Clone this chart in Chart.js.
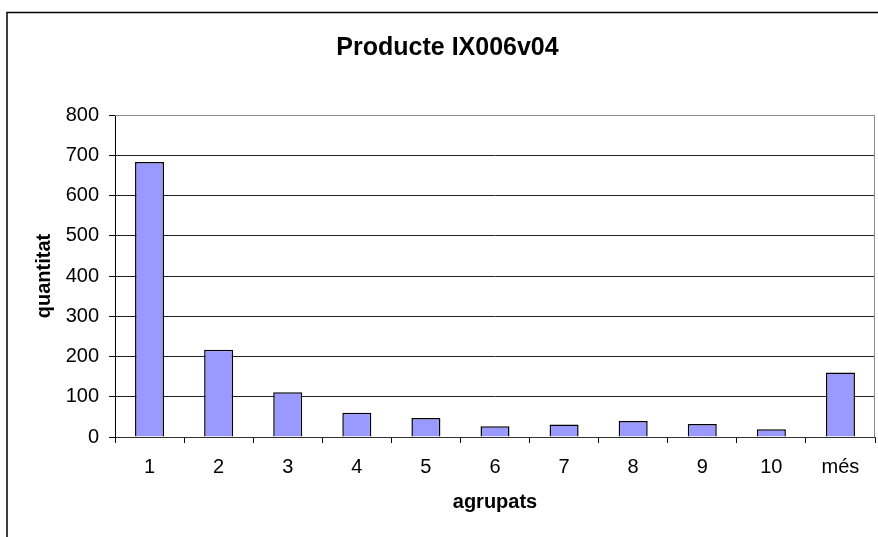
<!DOCTYPE html>
<html>
<head>
<meta charset="utf-8">
<script src="https://cdn.jsdelivr.net/npm/chart.js@4/dist/chart.umd.min.js"></script>
<style>
    html, body { margin: 0; padding: 0; background: #fff; }
    #wrap { width: 878px; height: 537px; }
</style>
</head>
<body>
<div id="wrap"><canvas id="histChart" width="878" height="537"></canvas></div>
<script>
// Histogram data
const categories = ['1', '2', '3', '4', '5', '6', '7', '8', '9', '10', 'més'];
const quantities = [683, 217, 111, 60, 47, 27, 31, 40, 32, 19, 160];
const yTicks = [0, 100, 200, 300, 400, 500, 600, 700, 800];

const chartTitle = 'Producte IX006v04';
const xTitle = 'agrupats';
const yTitle = 'quantitat';

const FONT = 'Arial, "Liberation Sans", sans-serif';

// white background, outer frame and grey plot border
const framePlugin = {
    id: 'frame',
    beforeDraw(chart) {
        const ctx = chart.ctx;
        ctx.save();
        ctx.fillStyle = '#fff';
        ctx.fillRect(0, 0, chart.width, chart.height);
        ctx.strokeStyle = '#000';
        ctx.lineWidth = 1.5;
        ctx.beginPath();
        ctx.moveTo(7, chart.height + 5);
        ctx.lineTo(7, 12.5);
        ctx.lineTo(chart.width + 5, 12.5);
        ctx.stroke();
        ctx.restore();
    },
    afterDatasetsDraw(chart) {
        const a = chart.chartArea;
        const ctx = chart.ctx;
        ctx.save();
        ctx.strokeStyle = '#8c8c8c';
        ctx.lineWidth = 1;
        ctx.beginPath();
        ctx.moveTo(a.left, a.top + 0.5);
        ctx.lineTo(a.right - 0.5, a.top + 0.5);
        ctx.lineTo(a.right - 0.5, a.bottom);
        ctx.stroke();
        ctx.restore();
    }
};

new Chart(document.getElementById('histChart'), {
    type: 'bar',
    data: {
        labels: categories,
        datasets: [{
            label: yTitle,
            data: quantities,
            backgroundColor: '#9999ff',
            borderColor: '#000',
            borderWidth: 1.5,
            categoryPercentage: 1,
            barPercentage: 0.42
        }]
    },
    options: {
        responsive: false,
        animation: false,
        layout: { padding: { left: 20, right: 3, top: 0, bottom: 10 } },
        plugins: {
            legend: { display: false },
            tooltip: { enabled: false },
            title: {
                display: true,
                text: chartTitle,
                color: '#000',
                font: { family: FONT, size: 25, weight: 'bold' },
                padding: { top: 33, bottom: 52 }
            }
        },
        scales: {
            x: {
                offset: true,
                grid: {
                    offset: true,
                    drawOnChartArea: false,
                    drawTicks: true,
                    tickLength: 6,
                    color: '#000'
                },
                border: { color: '#333', width: 1 },
                ticks: {
                    color: '#000',
                    font: { family: FONT, size: 20 },
                    padding: 12,
                    maxRotation: 0
                },
                title: {
                    display: true,
                    text: xTitle,
                    color: '#000',
                    font: { family: FONT, size: 20, weight: 'bold' },
                    padding: { top: 0, bottom: 13 }
                },
                afterFit(scale) { scale.height = 90; }
            },
            y: {
                min: 0,
                max: 800,
                afterBuildTicks(scale) {
                    scale.ticks = yTicks.map(v => ({ value: v }));
                },
                grid: {
                    color: ctx => ctx.tick && ctx.tick.value === 800 ? '#8c8c8c' : '#222',
                    tickColor: '#000',
                    tickLength: 6,
                    lineWidth: 1
                },
                border: { color: '#000', width: 1 },
                ticks: {
                    color: '#000',
                    font: { family: FONT, size: 20 },
                    padding: 10
                },
                title: {
                    display: true,
                    text: yTitle,
                    color: '#000',
                    font: { family: FONT, size: 20, weight: 'bold' },
                    padding: { top: 12, bottom: 0 }
                },
                afterFit(scale) { scale.width = 95; }
            }
        }
    },
    plugins: [framePlugin]
});
</script>
</body>
</html>
